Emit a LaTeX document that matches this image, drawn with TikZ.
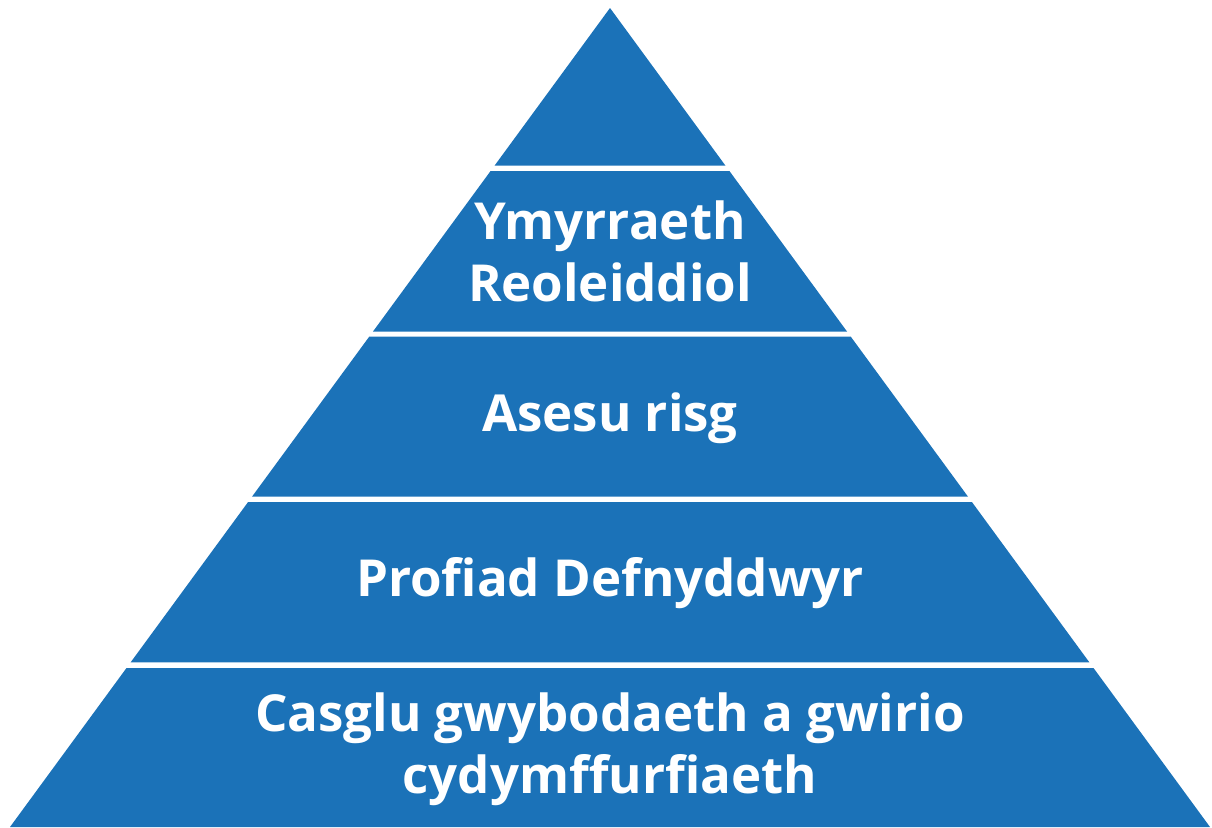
\documentclass[tikz,border=0pt]{standalone}
\usepackage{fontspec}
\setmainfont{Open Sans}
\definecolor{layerblue}{RGB}{27,114,184}
\begin{document}
\begin{tikzpicture}[x=1pt, y=-1pt,
    layer/.style={fill=layerblue},
    label/.style={text=white, align=center, font=\fontsize{51}{62}\selectfont\bfseries}]
    \useasboundingbox (0,0) rectangle (1212,827);
    % top of the pyramid
    \fill[layer] (610,8) -- (725.5,165.7) -- (494.5,165.7) -- cycle;
    % lower layers, cut from the same triangle
    \foreach \ya/\yb in {171/331.7, 336.7/496.7, 502/662.3, 668/827} {
        \pgfmathsetmacro\wa{(\ya-8)/819*600}
        \pgfmathsetmacro\wb{(\yb-8)/819*600}
        \fill[layer] (610-\wa,\ya) -- (610+\wa,\ya) -- (610+\wb,\yb) -- (610-\wb,\yb) -- cycle;
    }
    % labels
    \node[label] (reg) at (610,251) {Ymyrraeth\\Reoleiddiol};
    \node[label] (risk) at (610,418) {Asesu risg};
    \node[label] (ux) at (610,583) {Profiad Defnyddwyr};
    \node[label] (info) at (610,749) {Casglu gwybodaeth a gwirio\\cydymffurfiaeth};
\end{tikzpicture}
\end{document}
